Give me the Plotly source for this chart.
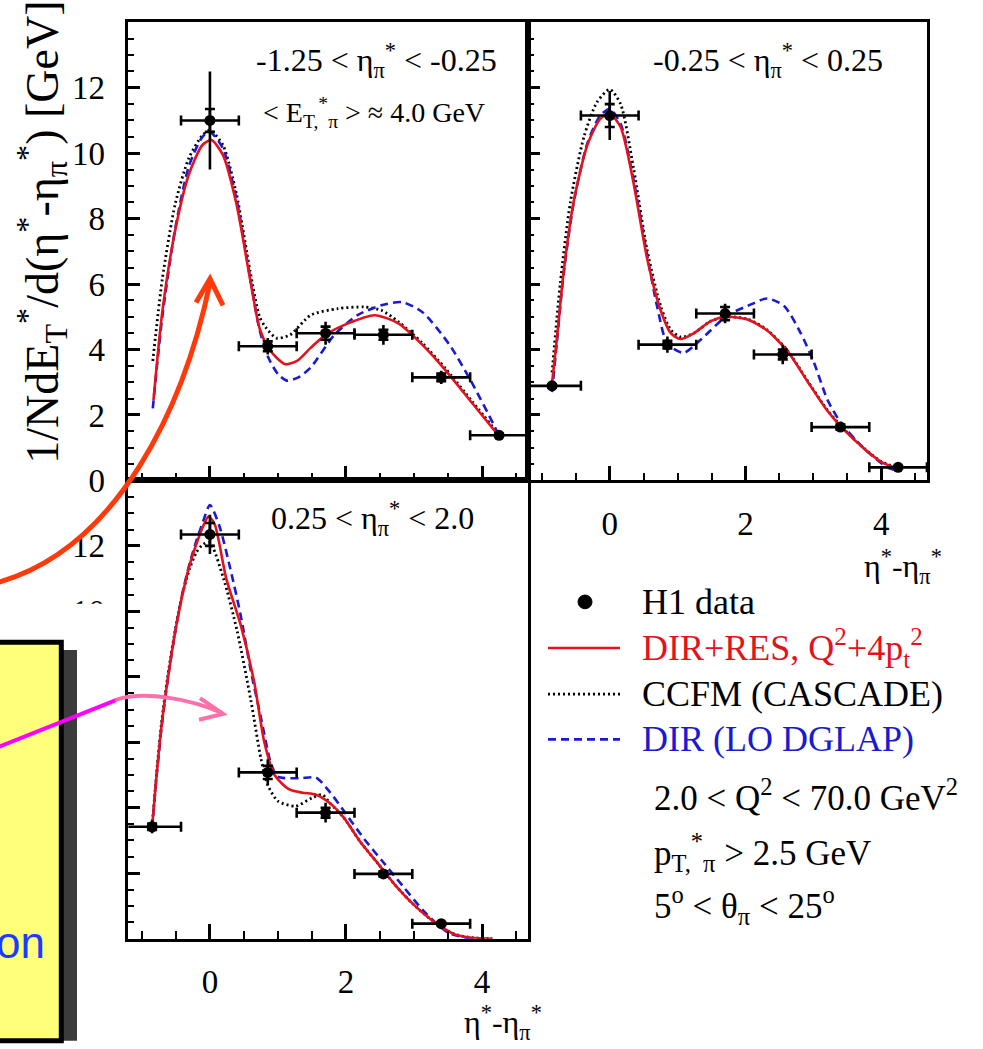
import plotly.graph_objects as go

W, H = 983, 1049

# ---------------- data ----------------
XERR = 0.425

# top-left panel: -1.25 < eta_pi* < -0.25
tl_bins = [0.0, 0.85, 1.7, 2.55, 3.4, 4.25]
tl_h1 = [11.0, 4.1, 4.5, 4.45, 3.15, 1.38]
tl_tot = [1.5, 0.25, 0.35, 0.3, 0.2, 0.1]
tl_stat = [0.35, 0.15, 0.2, 0.15, 0.12, 0.05]

tl_red_x = [-0.83, -0.70, -0.51, -0.31, -0.11, 0.02, 0.19, 0.39, 0.59, 0.73, 0.86, 0.98, 1.11, 1.28, 1.48, 1.70, 2.03, 2.42, 2.77, 3.12, 3.47, 3.86, 4.25]
tl_red_y = [2.45, 5.15, 7.65, 9.35, 10.25, 10.4, 9.95, 8.45, 6.15, 4.65, 4.05, 3.75, 3.55, 3.65, 4.05, 4.45, 4.8, 5.05, 4.8, 4.15, 3.35, 2.35, 1.35]
tl_blue_x = [-0.84, -0.70, -0.51, -0.31, -0.11, 0.0, 0.19, 0.39, 0.59, 0.73, 0.86, 1.0, 1.13, 1.30, 1.48, 1.83, 2.17, 2.52, 2.82, 3.12, 3.52, 3.86, 4.16, 4.25]
tl_blue_y = [2.2, 5.0, 7.7, 9.6, 10.5, 10.65, 10.15, 8.6, 6.2, 4.6, 3.75, 3.25, 3.05, 3.15, 3.45, 4.45, 5.05, 5.35, 5.45, 5.15, 4.15, 2.95, 1.75, 1.35]
tl_black_x = [-0.84, -0.70, -0.51, -0.31, -0.11, 0.0, 0.19, 0.39, 0.59, 0.73, 0.83, 0.98, 1.18, 1.48, 1.88, 2.27, 2.52, 2.77, 3.12, 3.47, 3.86, 4.25]
tl_black_y = [3.65, 6.15, 8.45, 9.85, 10.55, 10.7, 10.25, 8.75, 6.4, 5.0, 4.65, 4.35, 4.45, 5.05, 5.25, 5.3, 5.2, 4.85, 4.2, 3.4, 2.4, 1.4]

# top-right panel: -0.25 < eta_pi* < 0.25
tr_bins = [-0.85, 0.0, 0.85, 1.7, 2.55, 3.4, 4.25]
tr_h1 = [2.89, 11.15, 4.15, 5.1, 3.85, 1.63, 0.4]
tr_tot = [0.1, 0.75, 0.25, 0.3, 0.3, 0.15, 0.08]
tr_stat = [0.05, 0.35, 0.12, 0.2, 0.15, 0.08, 0.04]

tr_red_x = [-0.85, -0.78, -0.68, -0.53, -0.33, -0.14, 0.0, 0.16, 0.35, 0.55, 0.75, 0.90, 1.04, 1.24, 1.49, 1.73, 2.03, 2.32, 2.62, 2.91, 3.21, 3.45, 3.75, 4.0, 4.24]
tr_red_y = [2.98, 4.3, 6.36, 8.53, 10.25, 11.05, 11.2, 10.8, 9.1, 6.8, 5.2, 4.5, 4.32, 4.5, 4.87, 5.0, 4.92, 4.58, 3.95, 3.04, 2.12, 1.55, 0.97, 0.57, 0.37]
tr_black_x = [-0.85, -0.73, -0.58, -0.38, -0.19, 0.0, 0.16, 0.35, 0.55, 0.75, 0.90, 1.05, 1.24, 1.49, 1.73, 2.03, 2.32, 2.62, 2.91, 3.21, 3.45, 3.75, 4.0, 4.24]
tr_black_y = [3.3, 6.0, 8.5, 10.5, 11.55, 11.95, 11.5, 9.55, 7.05, 5.33, 4.6, 4.38, 4.5, 4.87, 5.0, 4.93, 4.6, 3.97, 3.06, 2.14, 1.57, 0.98, 0.58, 0.38]
tr_blue_x = [-0.85, -0.78, -0.68, -0.53, -0.33, -0.14, 0.0, 0.16, 0.35, 0.55, 0.70, 0.85, 1.09, 1.34, 1.73, 2.03, 2.32, 2.57, 2.81, 3.01, 3.21, 3.40, 3.75, 4.09, 4.24]
tr_blue_y = [2.7, 4.2, 6.3, 8.5, 10.3, 11.15, 11.35, 10.9, 9.2, 6.9, 5.3, 4.18, 3.9, 4.3, 5.04, 5.33, 5.56, 5.33, 4.52, 3.6, 2.46, 1.78, 0.97, 0.4, 0.3]

# bottom panel: 0.25 < eta_pi* < 2.0
bt_bins = [-0.85, 0.0, 0.85, 1.7, 2.55, 3.4]
bt_h1 = [3.42, 12.35, 5.08, 3.85, 1.98, 0.46]
bt_tot = [0.2, 0.6, 0.4, 0.3, 0.15, 0.08]
bt_stat = [0.1, 0.35, 0.2, 0.15, 0.08, 0.04]

bt_red_x = [-0.85, -0.78, -0.70, -0.60, -0.50, -0.40, -0.30, -0.20, -0.10, -0.02, 0.07, 0.24, 0.45, 0.65, 0.80, 0.95, 1.16, 1.36, 1.56, 1.77, 1.97, 2.22, 2.48, 2.73, 2.98, 3.29, 3.59, 3.85, 4.15]
bt_red_y = [3.42, 5.1, 6.7, 8.2, 9.5, 10.55, 11.4, 12.05, 12.6, 12.9, 12.66, 11.0, 9.6, 7.85, 6.0, 5.0, 4.57, 4.46, 4.4, 4.13, 3.69, 2.93, 2.27, 1.62, 1.07, 0.52, 0.14, 0.03, 0.0]
bt_blue_x = [-0.85, -0.78, -0.70, -0.60, -0.50, -0.40, -0.30, -0.20, -0.10, 0.0, 0.14, 0.30, 0.45, 0.60, 0.75, 0.90, 1.0, 1.31, 1.56, 1.77, 1.97, 2.27, 2.53, 2.83, 3.14, 3.49, 3.85, 4.15]
bt_blue_y = [3.37, 5.05, 6.65, 8.2, 9.5, 10.6, 11.45, 12.15, 12.75, 13.25, 12.6, 11.3, 9.9, 8.2, 6.75, 5.33, 4.95, 4.9, 4.92, 4.46, 3.9, 3.04, 2.38, 1.62, 0.85, 0.2, 0.0, 0.0]
bt_black_x = [-0.85, -0.78, -0.70, -0.60, -0.50, -0.40, -0.30, -0.20, -0.10, 0.0, 0.2, 0.4, 0.6, 0.75, 0.85, 1.0, 1.26, 1.5, 1.65, 1.77, 1.97, 2.22, 2.48, 2.73, 2.98, 3.29, 3.59, 3.85, 4.15]
bt_black_y = [3.42, 5.15, 6.8, 8.3, 9.55, 10.55, 11.3, 11.8, 12.05, 12.1, 11.0, 9.4, 7.3, 5.5, 4.7, 4.2, 4.05, 4.3, 4.4, 4.13, 3.69, 2.93, 2.27, 1.62, 1.07, 0.52, 0.14, 0.03, 0.0]

y_ticks = [0, 2, 4, 6, 8, 10, 12]
x_ticks = [0, 2, 4]

RED = "#e3121c"
BLUE = "#1a1ad2"
SERIF = "Liberation Serif"

# ---------------- helpers (pixel -> paper) ----------------
def px(x):
    return x / W

def py(y):
    return 1 - y / H

fig = go.Figure()


def add_panel(xa, ya, bins, vals, tot, stat, red, blue, black):
    fig.add_trace(go.Scatter(x=black[0], y=black[1], mode="lines", xaxis=xa, yaxis=ya,
                             line=dict(color="black", width=2.8, dash="2px,3px", shape="spline", smoothing=0.7),
                             name="CCFM (CASCADE)", showlegend=False))
    fig.add_trace(go.Scatter(x=blue[0], y=blue[1], mode="lines", xaxis=xa, yaxis=ya,
                             line=dict(color=BLUE, width=2.6, dash="8px,5px", shape="spline", smoothing=0.7),
                             name="DIR (LO DGLAP)", showlegend=False))
    fig.add_trace(go.Scatter(x=red[0], y=red[1], mode="lines", xaxis=xa, yaxis=ya,
                             line=dict(color=RED, width=2.6, shape="spline", smoothing=0.7),
                             name="DIR+RES", showlegend=False))
    fig.add_trace(go.Scatter(x=bins, y=vals, mode="markers", xaxis=xa, yaxis=ya,
                             marker=dict(color="black", size=11),
                             error_x=dict(type="constant", value=XERR, color="black", thickness=2.6, width=5),
                             error_y=dict(type="data", array=tot, color="black", thickness=2.6, width=0),
                             name="H1 data", showlegend=False))
    fig.add_trace(go.Scatter(x=bins, y=vals, mode="markers", xaxis=xa, yaxis=ya,
                             marker=dict(color="rgba(0,0,0,0)", size=1),
                             error_y=dict(type="data", array=stat, color="black", thickness=2.6, width=5),
                             hoverinfo="skip", showlegend=False))


add_panel("x", "y", tl_bins, tl_h1, tl_tot, tl_stat,
          (tl_red_x, tl_red_y), (tl_blue_x, tl_blue_y), (tl_black_x, tl_black_y))
add_panel("x2", "y2", tr_bins, tr_h1, tr_tot, tr_stat,
          (tr_red_x, tr_red_y), (tr_blue_x, tr_blue_y), (tr_black_x, tr_black_y))
add_panel("x3", "y3", bt_bins, bt_h1, bt_tot, bt_stat,
          (bt_red_x, bt_red_y), (bt_blue_x, bt_blue_y), (bt_black_x, bt_black_y))

tickfont = dict(family=SERIF, size=33, color="black")


def xaxis(domain, anchor, labels):
    return dict(domain=domain, anchor=anchor, range=[-1.2, 4.68], tickmode="array", tickvals=x_ticks,
                showticklabels=labels, ticks="inside", ticklen=15, tickwidth=2.5, tickcolor="black",
                minor=dict(tickmode="linear", tick0=0, dtick=0.5, ticks="inside", ticklen=8, tickwidth=2.2,
                           tickcolor="black", showgrid=False),
                showline=True, linecolor="black", linewidth=2.6, mirror=True, showgrid=False, zeroline=False,
                tickfont=tickfont, ticklabelstandoff=12)


def yaxis(domain, anchor, labels):
    return dict(domain=domain, anchor=anchor, range=[0, 14], tickmode="array", tickvals=y_ticks,
                showticklabels=labels, ticks="inside", ticklen=12, tickwidth=2.5, tickcolor="black",
                minor=dict(tickmode="linear", tick0=0, dtick=0.5, ticks="inside", ticklen=6, tickwidth=2.2,
                           tickcolor="black", showgrid=False),
                showline=True, linecolor="black", linewidth=2.6, mirror=True, showgrid=False, zeroline=False,
                tickfont=tickfont, ticklabelstandoff=14)


XL = [px(128.3), px(528.3)]
XR = [px(528.3), px(927.3)]
YT = [py(489.3), py(22.7)]
YB = [py(956), py(489.3)]

fig.update_layout(
    width=W, height=H, autosize=False,
    margin=dict(l=0, r=0, t=0, b=0),
    paper_bgcolor="white", plot_bgcolor="white",
    showlegend=False,
    xaxis=xaxis(XL, "y", False), yaxis=yaxis(YT, "x", True),
    xaxis2=xaxis(XR, "y2", True), yaxis2=yaxis(YT, "x2", False),
    xaxis3=xaxis(XL, "y3", True), yaxis3=yaxis(YB, "x3", True),
)

# ---------------- text ----------------
ann = []


def text(x, y, s, size, color="black", xanchor="center", yanchor="middle", family=SERIF, angle=0):
    ann.append(dict(x=px(x), y=py(y), xref="paper", yref="paper", text=s, showarrow=False,
                    xanchor=xanchor, yanchor=yanchor, textangle=angle,
                    font=dict(family=family, size=size, color=color)))


text(376, 62, "-1.25 &lt; η<sub>π</sub><sup>*</sup> &lt; -0.25", 32)
text(374, 115, "&lt; E<sub>T,</sub><sup>*</sup><sub>π</sub> &gt; ≈ 4.0 GeV", 28)
text(768, 62, "-0.25 &lt; η<sub>π</sub><sup>*</sup> &lt; 0.25", 32)
text(372, 528, "0.25 &lt; η<sub>π</sub><sup>*</sup> &lt; 2.0", 32)
text(42, 237, "1/NdE<sub>T</sub><sup>*</sup>/d(η<sup>*</sup>-η<sub>π</sub><sup>*</sup>) [GeV]", 46, angle=-90)
text(944, 552, "η<sup>*</sup>-η<sub>π</sub><sup>*</sup>", 32, xanchor="right", yanchor="top")
text(544, 1016, "η<sup>*</sup>-η<sub>π</sub><sup>*</sup>", 32, xanchor="right", yanchor="top")

# legend texts
text(640, 613, "H1 data", 36, xanchor="left")
text(640, 660, "DIR+RES, Q<sup>2</sup>+4p<sub>t</sub><sup>2</sup>", 36, color=RED, xanchor="left")
text(640, 707, "CCFM (CASCADE)", 36, xanchor="left")
text(640, 753, "DIR (LO DGLAP)", 36, color=BLUE, xanchor="left")
text(652, 810, "2.0 &lt; Q<sup>2</sup> &lt; 70.0 GeV<sup>2</sup>", 35, xanchor="left")
text(652, 868, "p<sub>T,</sub><sup>*</sup><sub>π</sub> &gt; 2.5 GeV", 35, xanchor="left")
text(652, 922, "5<sup>o</sup> &lt; θ<sub>π</sub> &lt; 25<sup>o</sup>", 35, xanchor="left")

# slide fragment text on the yellow box
text(47, 960, "on", 44, color="#1a3dff", xanchor="right", family="Liberation Sans")

fig.update_layout(annotations=ann)

# ---------------- shapes ----------------
shapes = []

# legend symbols
shapes.append(dict(type="circle", xref="paper", yref="paper",
                   x0=px(578), x1=px(592), y0=py(620), y1=py(606),
                   fillcolor="black", line=dict(color="black", width=1)))
shapes.append(dict(type="line", xref="paper", yref="paper", x0=px(548), x1=px(620), y0=py(660), y1=py(660),
                   line=dict(color=RED, width=2.6)))
shapes.append(dict(type="line", xref="paper", yref="paper", x0=px(548), x1=px(620), y0=py(707), y1=py(707),
                   line=dict(color="black", width=2.8, dash="2px,3px")))
shapes.append(dict(type="line", xref="paper", yref="paper", x0=px(548), x1=px(620), y0=py(753), y1=py(753),
                   line=dict(color=BLUE, width=2.6, dash="8px,5px")))

# white cover over the lower-left tick labels
shapes.append(dict(type="rect", xref="paper", yref="paper", x0=px(-5), x1=px(124), y0=py(1060), y1=py(615),
                   fillcolor="white", line=dict(width=0)))
# yellow box with shadow
shapes.append(dict(type="rect", xref="paper", yref="paper", x0=px(40), x1=px(77), y0=py(1060), y1=py(662),
                   fillcolor="#3b3b3b", line=dict(width=0)))
shapes.append(dict(type="rect", xref="paper", yref="paper", x0=px(-10), x1=px(61.3), y0=py(1060), y1=py(654),
                   fillcolor="#ffff7c", line=dict(color="black", width=5)))

# red curved arrow
red_path = (f"M {px(-5)},{py(594)} C {px(120)},{py(560)} {px(185)},{py(410)} {px(210)},{py(288)}")
shapes.append(dict(type="path", xref="paper", yref="paper", path=red_path,
                   line=dict(color="#ff3a0a", width=5), fillcolor="rgba(0,0,0,0)"))
red_head = f"M {px(196)},{py(308)} L {px(210)},{py(284)} L {px(223)},{py(311)}"
shapes.append(dict(type="path", xref="paper", yref="paper", path=red_head,
                   line=dict(color="#ff3a0a", width=5), fillcolor="rgba(0,0,0,0)"))

# magenta line and pink arrow
shapes.append(dict(type="line", xref="paper", yref="paper", x0=px(-2), y0=py(761), x1=px(116), y1=py(713),
                   line=dict(color="#ff00ff", width=4)))
pink_path = f"M {px(115)},{py(713)} C {px(145)},{py(703)} {px(190)},{py(712)} {px(222)},{py(726)}"
shapes.append(dict(type="path", xref="paper", yref="paper", path=pink_path,
                   line=dict(color="#ff6fa8", width=4), fillcolor="rgba(0,0,0,0)"))
pink_head = f"M {px(200)},{py(711)} L {px(223)},{py(727)} L {px(199)},{py(733)}"
shapes.append(dict(type="path", xref="paper", yref="paper", path=pink_head,
                   line=dict(color="#ff6fa8", width=4), fillcolor="rgba(0,0,0,0)"))

fig.update_layout(shapes=shapes)

fig.write_html("out.html")
